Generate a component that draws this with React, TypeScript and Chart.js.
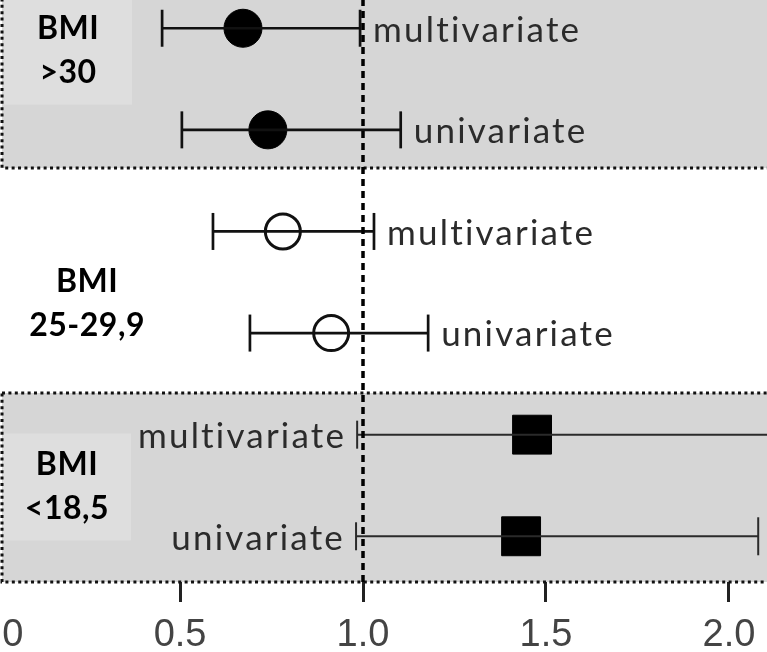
import React, { useEffect, useRef } from "react";
import { Chart, registerables } from "chart.js";
Chart.register(...registerables);

// ---- data ----
const groupLabelLines = [["BMI", ">30"], ["BMI", "25-29,9"], ["BMI", "<18,5"]];
const groupShaded = [true, false, true];
const groupLabelX = [0.194, 0.246, 0.191];
const groupLabelY = [5.23, 2.74, 0.94];
const panelRanges = [[4.075, 6.5], [1.86, 4.075], [0, 1.86]];

const rowLabels = ["multivariate", "univariate", "multivariate", "univariate", "multivariate", "univariate"];
const rowGroup = [0, 0, 1, 1, 2, 2];
const rowPositions = [5.45, 4.45, 3.45, 2.45, 1.45, 0.45];
const estimates = [0.672, 0.74, 0.781, 0.913, 1.462, 1.432];
const lowerCI = [0.451, 0.505, 0.59, 0.691, 0.984, 0.981];
const upperCI = [0.992, 1.103, 1.03, 1.178, 2.3, 2.08];
const labelSide = ["right", "right", "right", "right", "left", "left"];

const xTicks = [0, 0.5, 1.0, 1.5, 2.0];
const referenceValue = 1.0;
const xMin = -0.1013;
const xMax = 2.104;
const yMin = 0;
const yMax = 5.728;

// ---- styles ----
const PANEL_FILL = "#d6d6d6";
const BOX_FILL = "#dedede";
const INK = "#111";

const panelPlugin = {
  id: "panels",
  beforeDatasetsDraw(chart: any) {
    const { ctx, scales } = chart;
    const xs = scales.x, ys = scales.y;
    const left = xs.getPixelForValue(0.0135);
    const right = xs.getPixelForValue(2.3);
    ctx.save();
    panelRanges.forEach((r, gi) => {
      if (!groupShaded[gi]) return;
      const top = ys.getPixelForValue(r[1]);
      const bottom = ys.getPixelForValue(r[0]);
      ctx.fillStyle = PANEL_FILL;
      ctx.fillRect(left, top, right - left, bottom - top);
      const cx = xs.getPixelForValue(groupLabelX[gi]);
      const cy = ys.getPixelForValue(groupLabelY[gi]);
      ctx.fillStyle = BOX_FILL;
      ctx.fillRect(cx - 64, cy - 53, 128, 107);
      ctx.strokeStyle = INK;
      ctx.lineWidth = 3;
      ctx.setLineDash([3, 3.4]);
      ctx.strokeRect(left, top, right - left, bottom - top);
      ctx.setLineDash([]);
    });
    ctx.restore();
  },
  afterDatasetsDraw(chart: any) {
    const { ctx, scales } = chart;
    const xs = scales.x, ys = scales.y;
    ctx.save();
    ctx.font = "35px Lato";
    (ctx as any).letterSpacing = "2.2px";
    ctx.fillStyle = "#2b2b2b";
    ctx.textBaseline = "middle";
    rowLabels.forEach((lab, i) => {
      const y = ys.getPixelForValue(rowPositions[i]) + 2;
      if (labelSide[i] === "right") {
        ctx.textAlign = "left";
        ctx.fillText(lab, xs.getPixelForValue(upperCI[i]) + 13, y);
      } else {
        ctx.textAlign = "right";
        ctx.fillText(lab, xs.getPixelForValue(lowerCI[i]) - 11, y);
      }
    });
    ctx.font = "bold 32px Lato";
    (ctx as any).letterSpacing = "0.5px";
    ctx.fillStyle = "#000";
    ctx.textAlign = "center";
    groupLabelLines.forEach((lines, gi) => {
      const cx = xs.getPixelForValue(groupLabelX[gi]);
      const cy = ys.getPixelForValue(groupLabelY[gi]);
      lines.forEach((t, li) => {
        ctx.fillText(t, cx, cy + (li - (lines.length - 1) / 2) * 44);
      });
    });
    ctx.restore();
  },
};

function buildConfig(): any {
  const datasets: any[] = [];
  datasets.push({
    data: [{ x: referenceValue, y: yMin }, { x: referenceValue, y: yMax }],
    showLine: true,
    borderColor: "#000",
    borderWidth: 3.5,
    borderDash: [7, 5],
    pointRadius: 0,
  });
  rowLabels.forEach((_, i) => {
    const lower = rowGroup[i] === 2;
    datasets.push({
      data: [{ x: lowerCI[i], y: rowPositions[i] }, { x: upperCI[i], y: rowPositions[i] }],
      showLine: true,
      borderColor: lower ? "#2a2a2a" : INK,
      borderWidth: lower ? 2 : 2.7,
      pointStyle: "line",
      rotation: 90,
      pointRadius: lower ? [14, 19] : 18.5,
      pointBorderWidth: lower ? 2 : 2.7,
      pointBorderColor: lower ? "#2a2a2a" : INK,
      pointBackgroundColor: INK,
    });
  });
  const markerStyles = [
    { pointStyle: "circle", pointRadius: 19, pointBackgroundColor: "#000", pointBorderColor: "#000", pointBorderWidth: 1 },
    { pointStyle: "circle", pointRadius: 17.5, pointBackgroundColor: "rgba(0,0,0,0)", pointBorderColor: INK, pointBorderWidth: 3 },
    { pointStyle: "rect", pointRadius: 27.5, pointBackgroundColor: "#000", pointBorderColor: "#000", pointBorderWidth: 1 },
  ];
  markerStyles.forEach((st, gi) => {
    const pts = rowLabels
      .map((_, i) => i)
      .filter((i) => rowGroup[i] === gi)
      .map((i) => ({ x: estimates[i], y: rowPositions[i] }));
    datasets.push({ data: pts, showLine: false, ...st });
  });

  return {
    type: "scatter",
    data: { datasets },
    options: {
      responsive: false,
      animation: false,
      devicePixelRatio: 1,
      layout: { padding: 0, autoPadding: false },
      plugins: { legend: { display: false }, tooltip: { enabled: false } },
      events: [],
      scales: {
        x: {
          type: "linear",
          position: "bottom",
          min: xMin,
          max: xMax,
          afterBuildTicks: (scale: any) => {
            scale.ticks = xTicks.map((v) => ({ value: v }));
          },
          afterFit: (scale: any) => {
            scale.paddingLeft = 0;
            scale.paddingRight = 0;
            scale.height = 70;
          },
          ticks: {
            callback: (v: any) => Number(v).toFixed(1),
            font: { family: "Liberation Sans", size: 38 },
            color: "#444",
            padding: 11,
            maxRotation: 0,
            autoSkip: false,
          },
          grid: {
            drawOnChartArea: false,
            drawTicks: true,
            tickLength: 20,
            tickWidth: 3,
            tickColor: "#222",
          },
          border: { display: false },
        },
        y: { type: "linear", min: yMin, max: yMax, display: false },
      },
    },
    plugins: [panelPlugin],
  };
}

export default function App() {
  const ref = useRef<HTMLCanvasElement>(null);
  useEffect(() => {
    const chart = new Chart(ref.current!, buildConfig());
    return () => chart.destroy();
  }, []);
  return (
    <div style={{ position: "fixed", left: 0, top: 0, width: 767, height: 652, overflow: "hidden", background: "#fff" }}>
      <canvas
        ref={ref}
        width={807}
        height={652}
        style={{ position: "absolute", left: -40, top: 0, width: 807, height: 652 }}
      />
    </div>
  );
}
